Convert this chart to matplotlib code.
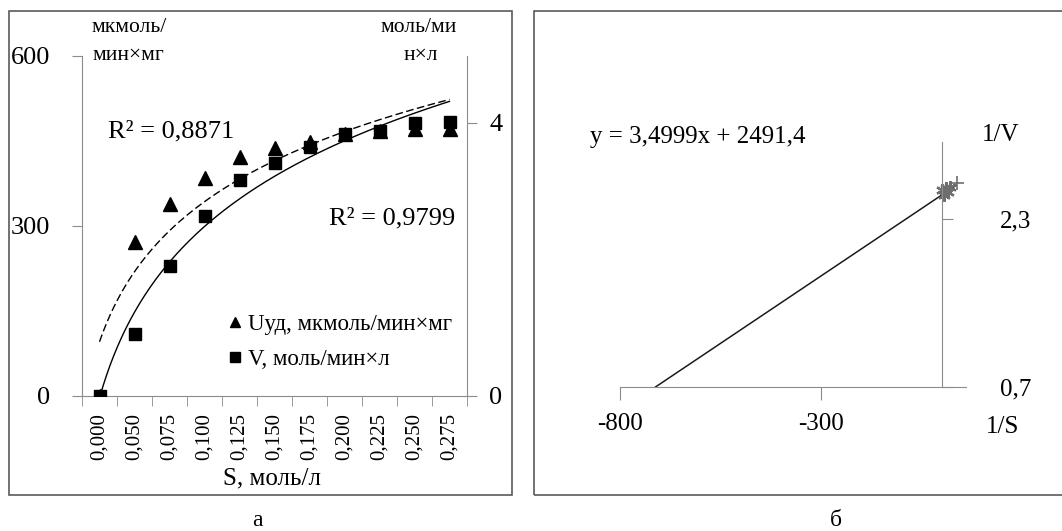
import numpy as np
import matplotlib
matplotlib.use("Agg")
import matplotlib.pyplot as plt
from matplotlib.lines import Line2D
from matplotlib.patches import Rectangle

plt.rcParams["font.family"] = ["Liberation Serif", "DejaVu Serif"]

# --- panel a: specific activity and rate vs substrate concentration ---
s_labels = ["0,000", "0,050", "0,075", "0,100", "0,125", "0,150",
            "0,175", "0,200", "0,225", "0,250", "0,275"]
u_spec = [0, 271, 338, 385, 422, 438, 449, 462, 467, 471, 471]      # мкмоль/мин×мг
v_rate = [0, 0.905, 1.90, 2.63, 3.17, 3.42, 3.64, 3.84, 3.88, 4.00, 4.01]  # моль/мин×л
r2_u = "R² = 0,8871"
r2_v = "R² = 0,9799"

# --- panel b: Lineweaver-Burk ---
inv_s = [1, 6, 11, 16, 21, 38]
inv_v = [2555, 2490, 2581, 2529, 2594, 2646]
lb_slope, lb_icpt = 3.4999, 2491.4
lb_x_end = 35

W, H = 1062, 531
fig = plt.figure(figsize=(W / 100, H / 100), dpi=100)
GRAY = "#8c8c8c"


def fx(px):
    return px / W


def fy(py):
    return 1 - py / H


# panel frames
fig.patches.append(Rectangle((fx(9), fy(495)), fx(503), 484 / H, fill=False,
                             ec="#5a5a5a", lw=1.2, transform=fig.transFigure))
fig.patches.append(Rectangle((fx(534), fy(495)), fx(540), 484 / H, fill=False,
                             ec="#5a5a5a", lw=1.2, transform=fig.transFigure))

# ---------------- panel a ----------------
ax = fig.add_axes([fx(82), fy(396), fx(385), 340 / H])
ax2 = ax.twinx()
n = len(s_labels)
pos = np.arange(n)

ax.plot(pos, u_spec, ls="", marker="^", ms=10, color="k", zorder=3)
ax2.plot(pos, v_rate, ls="", marker="s", ms=9, color="k", zorder=3)

# logarithmic trend lines (Excel style, x = category number 1..n)
xn = pos + 1
xx = np.linspace(1, n, 200)
a_u, b_u = np.polyfit(np.log(xn), u_spec, 1)
a_v, b_v = np.polyfit(np.log(xn), v_rate, 1)
ax.plot(xx - 1, a_u * np.log(xx) + b_u, color="k", lw=1, ls=(0, (5.5, 2.5)))
ax2.plot(xx - 1, a_v * np.log(xx) + b_v, color="k", lw=1)

ax.set_xlim(-0.5, n - 0.5)
ax.set_ylim(0, 600)
ax2.set_ylim(0, 4.98)
ax.set_yticks([0, 300, 600])
ax2.set_yticks([0, 4])
ax.set_xticks(pos)
ax.set_xticklabels(s_labels, rotation=90, fontsize=15)
ax.set_xticks(np.arange(n + 1) - 0.5, minor=True)
ax.tick_params(axis="x", which="major", length=0, pad=12)
ax.tick_params(axis="x", which="minor", length=7, color=GRAY, direction="out")
ax.tick_params(axis="y", length=7, color=GRAY, labelsize=19, pad=16)
ax2.tick_params(axis="y", length=7, color=GRAY, labelsize=19, pad=9)
for a in (ax, ax2):
    a.spines["top"].set_visible(False)
    for side in ("left", "right", "bottom"):
        a.spines[side].set_color(GRAY)
ax2.spines["bottom"].set_visible(False)
ax.spines["right"].set_visible(False)
ax2.spines["left"].set_visible(False)

fig.text(fx(272), fy(478), "S, моль/л", fontsize=18, ha="center", va="center")
fig.text(fx(91), fy(27), "мкмоль/", fontsize=15.5, ha="left", va="center")
fig.text(fx(92), fy(55), "мин×мг", fontsize=15.5, ha="left", va="center")
fig.text(fx(419), fy(27), "моль/ми", fontsize=15.5, ha="center", va="center")
fig.text(fx(421), fy(55), "н×л", fontsize=15.5, ha="center", va="center")
fig.text(fx(108), fy(131), r2_u, fontsize=19, ha="left", va="center")
fig.text(fx(329), fy(218), r2_v, fontsize=19, ha="left", va="center")

handles = [Line2D([], [], ls="", marker="^", ms=7, color="k"),
           Line2D([], [], ls="", marker="s", ms=7, color="k")]
ax.legend(handles, ["Uуд, мкмоль/мин×мг", "V, моль/мин×л"], frameon=False,
          fontsize=16.5, loc="upper left", bbox_to_anchor=(fx(229), fy(314)),
          bbox_transform=fig.transFigure, borderpad=0, borderaxespad=0,
          handlelength=0.5, handletextpad=0.35, labelspacing=0.62)

fig.text(fx(257), fy(521), "а", fontsize=17, ha="center", va="center")

# ---------------- panel b ----------------
bx = fig.add_axes([fx(620), fy(387), fx(346), 245 / H])
bx.set_xlim(-800, 60)
bx.set_ylim(0, 3178)
xl = np.array([-lb_icpt / lb_slope, lb_x_end])
bx.plot(xl, lb_slope * xl + lb_icpt, color="#1a1a1a", lw=1.1)
bx.plot(inv_s[:-1], inv_v[:-1], ls="", marker=(6, 2, 0), ms=9, color="#6e6e6e", mew=1.6)
bx.plot(inv_s[-1:], inv_v[-1:], ls="", marker="+", ms=10, color="#6e6e6e", mew=1.2)

bx.spines["top"].set_visible(False)
bx.spines["left"].set_visible(False)
bx.spines["right"].set_position(("data", 0))
bx.spines["right"].set_color(GRAY)
bx.spines["bottom"].set_color(GRAY)
bx.yaxis.tick_right()
bx.set_yticks([0, 2179])
bx.set_yticklabels(["0,7", "2,3"])
bx.set_xticks([-800, -300])
bx.set_xticklabels(["-800", "-300"])
bx.tick_params(axis="y", length=8, color=GRAY, labelsize=18, pad=34)
bx.tick_params(axis="x", length=9, color=GRAY, labelsize=18, pad=10)

fig.text(fx(590), fy(137), "y = 3,4999x + 2491,4", fontsize=18, ha="left", va="center")
fig.text(fx(982), fy(135), "1/V", fontsize=18, ha="left", va="center")
fig.text(fx(986), fy(427), "1/S", fontsize=18, ha="left", va="center")
fig.text(fx(836), fy(521), "б", fontsize=17, ha="center", va="center")

fig.savefig("out.png", dpi=100)
